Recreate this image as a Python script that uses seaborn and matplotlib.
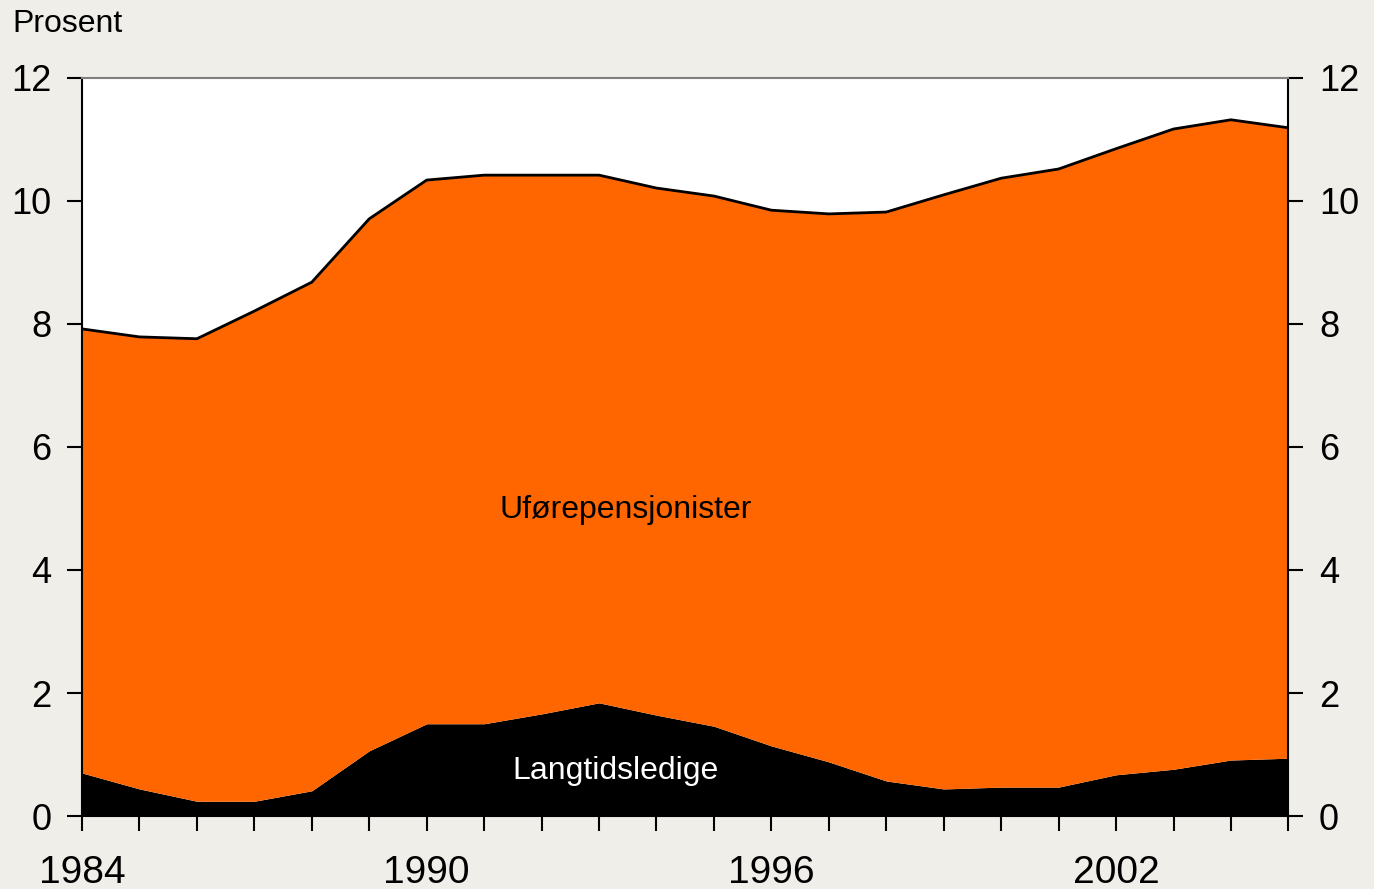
import numpy as np
import pandas as pd
import seaborn as sns
import matplotlib
matplotlib.use("Agg")
from matplotlib import pyplot as plt

# data (prosent)
years = list(range(1984, 2006))
langtidsledige = [0.70, 0.44, 0.24, 0.24, 0.41, 1.06, 1.50, 1.50, 1.66, 1.84, 1.64,
                  1.46, 1.14, 0.88, 0.57, 0.44, 0.47, 0.47, 0.67, 0.76, 0.91, 0.94]
total = [7.92, 7.79, 7.76, 8.21, 8.68, 9.71, 10.34, 10.42, 10.42, 10.42, 10.21,
         10.08, 9.85, 9.79, 9.82, 10.10, 10.37, 10.52, 10.85, 11.17, 11.32, 11.19]
year_labels = [1984, 1990, 1996, 2002]
y_ticks = [0, 2, 4, 6, 8, 10, 12]

df = pd.DataFrame({"year": years, "ledige": langtidsledige, "total": total})

sns.set_style("white")
plt.rcParams['font.family'] = ['Liberation Sans', 'DejaVu Sans']
plt.rcParams['text.color'] = 'black'
plt.rcParams['xtick.color'] = 'black'
plt.rcParams['ytick.color'] = 'black'

bg = "#efeee8"
fig = plt.figure(figsize=(13.74, 8.89), dpi=100, facecolor=bg)
ax = fig.add_axes([0.0597, 0.0821, 0.878, 0.8302])
ax.set_facecolor("white")

ax.fill_between(df["year"], 0, df["ledige"], color="black", lw=0)
ax.fill_between(df["year"], df["ledige"], df["total"], color="#ff6600", lw=0)
sns.lineplot(data=df, x="year", y="total", color="black", lw=2, ax=ax)

ax.set_xlim(1984, 2005)
ax.set_ylim(0, 12)
ax.set_xlabel("")
ax.set_ylabel("")

ax.set_xticks(years)
ax.set_xticklabels([str(y) if y in year_labels else "" for y in years])
ax.set_yticks(y_ticks)
ax.tick_params(axis="both", length=11, width=1.5, color="black",
               labelcolor="black", direction="out")
ax.tick_params(axis="x", labelsize=28, pad=17, bottom=True)
ax.tick_params(axis="y", labelsize=26, pad=11, left=True, right=True,
               labelleft=True, labelright=True)

for side in ["left", "right", "bottom"]:
    ax.spines[side].set_color("black")
    ax.spines[side].set_linewidth(1.5)
ax.spines["top"].set_color("#808080")
ax.spines["top"].set_linewidth(1.5)

ax.text(1993.46, 4.98, "Uførepensjonister", fontsize=23, ha="center", va="center", color="black")
ax.text(1993.29, 0.73, "Langtidsledige", fontsize=23, ha="center", va="center", color="white")
fig.text(0.009, 0.973, "Prosent", fontsize=23, ha="left", va="center", color="black")

fig.savefig("out.png", dpi=100, facecolor=bg)
